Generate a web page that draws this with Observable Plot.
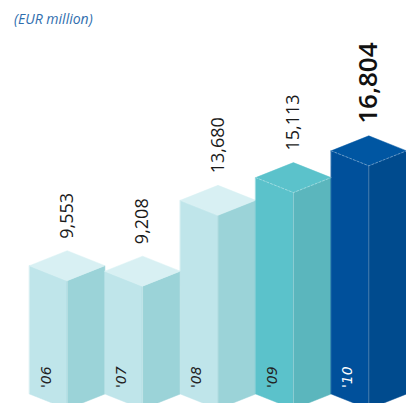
<!DOCTYPE html>
<html>
<head>
<meta charset="utf-8">
<script src="https://cdn.jsdelivr.net/npm/d3@7"></script>
<script src="https://cdn.jsdelivr.net/npm/@observablehq/plot@0.6"></script>
<style>
  html, body { margin: 0; padding: 0; background: #fff; overflow: hidden; }
  #wrap { position: relative; width: 406px; height: 403px; overflow: hidden; }
  #sub { position: absolute; left: 14px; top: 10px; font: italic 14px "Open Sans", sans-serif; color: #2f6eae; line-height: 18px; }
  svg { overflow: hidden; }
</style>
</head>
<body>
<div id="wrap">
  <div id="chart"></div>
  <div id="sub">(EUR million)</div>
</div>
<script>
// ---- data ----
const years = ["'06", "'07", "'08", "'09", "'10"];
const values = [9553, 9208, 13680, 15113, 16804];

// ---- styles ----
const frontColors = ["#bfe5ea", "#bfe5ea", "#bfe5ea", "#5bc2cb", "#00509b"];
const sideColors  = ["#9bd3d8", "#9bd3d8", "#9bd3d8", "#5bb6bd", "#004b8e"];
const topColors   = ["#d8f0f3", "#d8f0f3", "#d8f0f3", "#5bc2cb", "#0056a2"];
const yearColors  = ["#222", "#222", "#222", "#222", "#ffffff"];

// layout constants (in value units of the y scale)
const BASE = 1452;   // where the visible bars start
const DEPTH = 947;   // isometric depth offset
const fmt = d3.format(",");

const idx = values.map((_, i) => i);

const polys = [];
values.forEach((v, i) => {
  const L = i, F = i + 0.5, R = i + 1;
  const add = (pts, id, c) => pts.forEach(([x, y]) => polys.push({x, y, id: id + i, c}));
  add([[L, v], [F, v - DEPTH], [F, BASE - DEPTH], [L, BASE]], "front", frontColors[i]);
  add([[F, v - DEPTH], [R, v], [R, BASE], [F, BASE - DEPTH]], "side", sideColors[i]);
  add([[L, v], [F, v + DEPTH], [R, v], [F, v - DEPTH]], "top", topColors[i]);
});

const dashed = [];
[3, 4].forEach(i => {
  const v = values[i];
  [[i, v], [i + 0.5, v - DEPTH], [i + 1, v]].forEach(([x, y]) => dashed.push({x, y, id: i}));
});

const chart = Plot.plot({
  width: 406,
  height: 403,
  x: {domain: [0, 5], range: [29, 406], axis: null},
  y: {domain: [0, 20000], range: [416.5, 99.7], axis: null},
  color: {type: "identity"},
  style: {fontFamily: "'Open Sans', sans-serif", background: "#fff"},
  marks: [
    Plot.line(polys, {x: "x", y: "y", z: "id", fill: "c", stroke: "c", strokeWidth: 0.5, curve: "linear-closed"}),
    Plot.link(idx, {
      x1: i => i + 0.5, x2: i => i + 0.5,
      y1: i => values[i] - DEPTH, y2: () => BASE - DEPTH,
      stroke: "#ffffff", strokeOpacity: 0.35, strokeWidth: 0.7
    }),
    Plot.line(dashed, {x: "x", y: "y", z: "id", stroke: "#ffffff", strokeOpacity: 0.5, strokeWidth: 0.7, strokeDasharray: "2,2"}),
    Plot.text(idx.slice(0, 4), {
      x: i => i + 0.5, y: i => values[i] + DEPTH, text: i => fmt(values[i]),
      rotate: -90, textAnchor: "start", dy: -12, fontSize: 18, fill: "#1a1a1a"
    }),
    Plot.text(idx.slice(4), {
      x: i => i + 0.5, y: i => values[i] + DEPTH, text: i => fmt(values[i]),
      rotate: -90, textAnchor: "start", dy: -12, fontSize: 26, fontWeight: 600, fill: "#111"
    }),
    Plot.text(idx, {
      x: i => i + 0.22, y: () => BASE, text: i => years[i],
      rotate: -90, textAnchor: "start", dy: -6, fontSize: 14, fontStyle: "italic",
      fontFamily: "DejaVu Sans", fill: i => yearColors[i]
    })
  ]
});
document.getElementById("chart").appendChild(chart);
</script>
</body>
</html>
